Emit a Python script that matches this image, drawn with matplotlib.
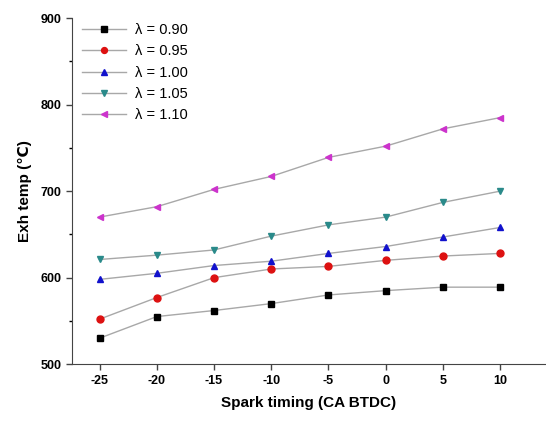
import matplotlib.pyplot as plt
from matplotlib.ticker import MultipleLocator

plt.rcParams['font.family'] = ['Liberation Sans', 'DejaVu Sans']
plt.rcParams['axes.unicode_minus'] = False

# spark timing (CA BTDC)
timing = [-25, -20, -15, -10, -5, 0, 5, 10]

# exhaust temperature per lambda
t_090 = [530, 555, 562, 570, 580, 585, 589, 589]
t_095 = [552, 577, 600, 610, 613, 620, 625, 628]
t_100 = [598, 605, 614, 619, 628, 636, 647, 658]
t_105 = [621, 626, 632, 648, 661, 670, 687, 700]
t_110 = [670, 682, 702, 717, 739, 752, 772, 785]

labels = ['λ = 0.90', 'λ = 0.95', 'λ = 1.00', 'λ = 1.05', 'λ = 1.10']
series = [t_090, t_095, t_100, t_105, t_110]
colors = ['#000000', '#dd1111', '#1111cc', '#2a8a8a', '#cc33cc']
markers = ['s', 'o', '^', 'v', '<']

fig = plt.figure(figsize=(5.46, 4.21), dpi=100)
ax = fig.add_axes([0.132, 0.135, 0.868, 0.822])

for vals, lab, c, m in zip(series, labels, colors, markers):
    ax.plot(timing, vals, color='#a8a8a8', lw=1, marker=m, markersize=5,
            markerfacecolor=c, markeredgecolor=c, label=lab)

ax.set_xlim(-27.4, 14)
ax.set_ylim(500, 900)
ax.set_xticks(timing)
ax.yaxis.set_major_locator(MultipleLocator(100))
ax.yaxis.set_minor_locator(MultipleLocator(50))
ax.spines['top'].set_visible(False)
ax.spines['right'].set_visible(False)
ax.spines['left'].set_color('#444444')
ax.spines['bottom'].set_color('#444444')
ax.tick_params(direction='out', length=4, width=1, color='#444444')
ax.tick_params(which='minor', direction='out', length=2.5, width=1)
for t in ax.get_xticklabels() + ax.get_yticklabels():
    t.set_fontweight('bold')
    t.set_fontsize(9)

ax.set_xlabel('Spark timing (CA BTDC)', fontsize=11, fontweight='bold', labelpad=7)
ax.set_ylabel('Exh temp (℃)', fontsize=11, fontweight='bold', labelpad=6)

ax.legend(loc='upper left', bbox_to_anchor=(0.0, 1.015), frameon=False,
          fontsize=10.5, handlelength=3.0, labelspacing=0.5, borderaxespad=0.3,
          markerscale=0.85, handletextpad=0.6)

fig.savefig('out.png', dpi=100)
